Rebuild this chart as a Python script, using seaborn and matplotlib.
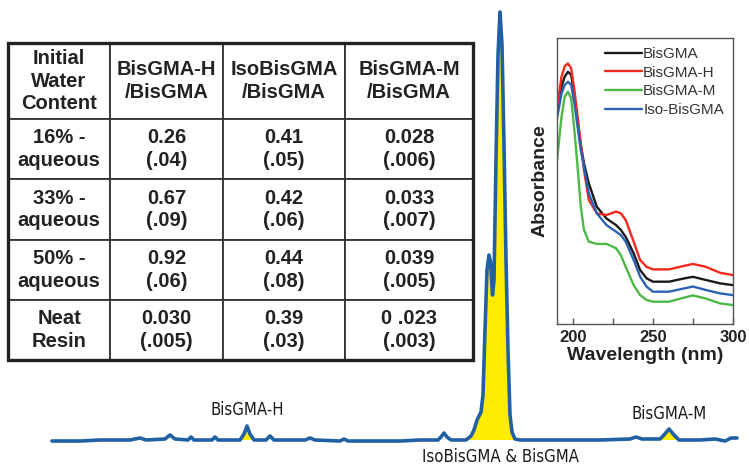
import numpy as np
import pandas as pd
import matplotlib.pyplot as plt
import seaborn as sns
from matplotlib.patches import Rectangle

sns.set_theme(style="white")
plt.rcParams["font.family"] = ["Liberation Sans", "DejaVu Sans"]

# --- chromatogram (retention time in min, signal in mAU) ---
rt = [0.00, 1.12, 1.92, 3.12, 3.52, 3.76, 4.52, 4.72, 4.92, 5.44, 5.56, 5.68,
      6.40, 6.52, 6.64, 7.52, 7.68, 7.80, 7.92, 8.08, 8.56, 8.72, 8.88, 10.12,
      10.32, 10.52, 11.52, 11.68, 11.84, 13.92, 14.72, 15.44, 15.56, 15.68, 15.80,
      15.96, 16.56, 16.76, 16.88, 17.00, 17.16, 17.24, 17.32, 17.40, 17.48, 17.54,
      17.62, 17.68, 17.76, 17.84, 17.92, 18.00, 18.08, 18.16, 18.24, 18.32, 18.40,
      18.52, 18.72, 20.32, 21.92, 23.12, 23.36, 23.60, 24.32, 24.48, 24.68, 24.88,
      25.08, 25.92, 26.52, 26.92, 27.16, 27.40]
signal = [-2.5, -2.5, 0, 0, 5, 0, 2.5, 12.5, 2.5, 0, 7.5, 0,
          0, 7.5, 0, 0, 15, 35, 15, 0, 0, 10, 0, 0,
          5, 0, -2.5, 2.5, -2.5, -2.5, 0, 0, 7.5, 17.5, 7.5,
          0, 0, 10, 25, 50, 70, 112.5, 275, 425, 462.5, 445,
          362.5, 400, 700, 962.5, 1070, 987.5, 737.5, 450, 225, 62.5, 20,
          2.5, 0, 0, 0, 2.5, 7.5, 2.5, 2.5, 12.5, 27.5, 12.5,
          0, 0, 2.5, -2.5, 5, 5]
peak_windows = [(7.6, 8.0), (16.6, 18.5), (24.4, 24.95)]
peak_names = ["BisGMA-H", "IsoBisGMA & BisGMA", "BisGMA-M"]
peak_label_rt = [7.8, 17.92, 24.68]
peak_label_sig = [75, -42, 65]

# --- ratio table ---
water_content = ["Initial\nWater\nContent", "16% -\naqueous", "33% -\naqueous",
                 "50% -\naqueous", "Neat\nResin"]
col_headers = ["BisGMA-H\n/BisGMA", "IsoBisGMA\n/BisGMA", "BisGMA-M\n/BisGMA"]
ratio_h = ["0.26", "0.67", "0.92", "0.030"]
sd_h = [".04", ".09", ".06", ".005"]
ratio_iso = ["0.41", "0.42", "0.44", "0.39"]
sd_iso = [".05", ".06", ".08", ".03"]
ratio_m = ["0.028", "0.033", "0.039", "0 .023"]
sd_m = [".006", ".007", ".005", ".003"]

# --- UV spectra ---
wavelength = [190, 193, 195, 197, 199, 201, 203, 205, 207, 210, 215, 221, 227,
              230, 233, 238, 242, 246, 250, 260, 270, 275, 283, 292, 300]
abs_bisgma = [.725, .830, .865, .882, .871, .801, .713, .626, .562, .492, .410,
              .369, .346, .329, .305, .247, .189, .160, .148, .148, .160, .165,
              .154, .142, .136]
abs_bisgma_h = [.748, .865, .902, .911, .894, .818, .725, .632, .538, .434, .387,
                .381, .393, .387, .364, .288, .224, .200, .191, .191, .204, .210,
                .200, .179, .171]
abs_bisgma_m = [.562, .725, .795, .812, .789, .678, .550, .410, .329, .288, .280,
                .280, .265, .241, .200, .136, .101, .084, .078, .078, .093, .100,
                .089, .072, .066]
abs_iso = [.713, .807, .836, .847, .836, .772, .690, .608, .550, .457, .387,
           .346, .323, .311, .288, .224, .166, .131, .113, .113, .125, .131,
           .119, .107, .101]
uv_names = ["BisGMA", "BisGMA-H", "BisGMA-M", "Iso-BisGMA"]
uv_colors = ["#1a1a1a", "#f0291c", "#4db848", "#2a62b4"]


def main():
    fig = plt.figure(figsize=(7.49, 4.66), dpi=100)

    # chromatogram over the whole figure
    ax = fig.add_axes([0, 0, 1, 1])
    chrom = pd.DataFrame({"rt": rt, "signal": signal})
    t = np.array(rt)
    s = np.array(signal)
    mask = np.zeros_like(t, dtype=bool)
    for a, b in peak_windows:
        mask |= (t >= a) & (t <= b)
    ax.fill_between(t, 0, s, where=mask, color="#ffec00", interpolate=True, lw=0)
    sns.lineplot(data=chrom, x="rt", y="signal", ax=ax, color="#2161a3",
                 lw=2.6, sort=False)
    for name, x, y in zip(peak_names, peak_label_rt, peak_label_sig):
        ax.text(x, y, name, ha="center", va="center", fontsize=12,
                family=["DejaVu Sans"], fontstretch="condensed", color="#1a1a1a")
    ax.set_xlim(-2.08, 27.88)
    ax.set_ylim(-65, 1100)
    ax.axis("off")

    # table inset
    tax = fig.add_axes([0.0107, 0.2275, 0.6208, 0.6803])
    tax.axis("off")
    cells = [[water_content[0]] + col_headers]
    for i in range(4):
        cells.append([water_content[i + 1],
                      f"{ratio_h[i]}\n({sd_h[i]})",
                      f"{ratio_iso[i]}\n({sd_iso[i]})",
                      f"{ratio_m[i]}\n({sd_m[i]})"])
    widths = np.array([102, 113, 122, 128]) / 465
    tbl = tax.table(cellText=cells, colWidths=list(widths), cellLoc="center",
                    bbox=[0, 0, 1, 1])
    tbl.auto_set_font_size(False)
    tbl.set_fontsize(14.5)
    for (r, c), cell in tbl.get_celld().items():
        cell.set_height(76 if r == 0 else 60)
        cell.set_edgecolor("#333333")
        cell.set_linewidth(1.3)
        cell.set_facecolor("white")
        cell.get_text().set_fontweight("bold")
        cell.get_text().set_color("#222222")
        cell.get_text().set_linespacing(1.25)
    tax.add_patch(Rectangle((0, 0), 1, 1, transform=tax.transAxes, fill=False,
                            ec="#222222", lw=2.4, zorder=5, clip_on=False))

    # UV spectra inset
    uax = fig.add_axes([0.7433, 0.3047, 0.2354, 0.6137])
    uax.set_facecolor("white")
    uv = pd.DataFrame({
        "wavelength": wavelength * 4,
        "absorbance": abs_bisgma + abs_bisgma_h + abs_bisgma_m + abs_iso,
        "compound": sum([[n] * len(wavelength) for n in uv_names], []),
    })
    sns.lineplot(data=uv, x="wavelength", y="absorbance", hue="compound",
                 hue_order=uv_names, palette=uv_colors, lw=1.7, ax=uax)
    uax.set_xlim(190, 300)
    uax.set_ylim(0, 1)
    uax.set_yticks([])
    uax.set_xticks([200, 250, 300])
    uax.set_xticks([225, 275], minor=True)
    uax.tick_params(axis="x", which="both", direction="in", bottom=True,
                    length=4, width=1, color="#555555", pad=4)
    for lab in uax.get_xticklabels():
        lab.set_fontsize(12)
        lab.set_fontweight("bold")
        lab.set_color("#222222")
    uax.set_xlabel("Wavelength (nm)", fontsize=14, fontweight="bold",
                   color="#222222", labelpad=2)
    uax.set_ylabel("Absorbance", fontsize=14, fontweight="bold",
                   color="#222222", labelpad=6)
    for sp in uax.spines.values():
        sp.set_color("#555555")
        sp.set_linewidth(1)
    leg = uax.legend(loc="upper right", frameon=False, fontsize=11,
                     handlelength=2.4, handletextpad=0.1, labelspacing=0.3,
                     borderaxespad=0.2)
    for txt in leg.get_texts():
        txt.set_color("#333333")

    fig.savefig("out.png", dpi=100)


if __name__ == "__main__":
    main()
